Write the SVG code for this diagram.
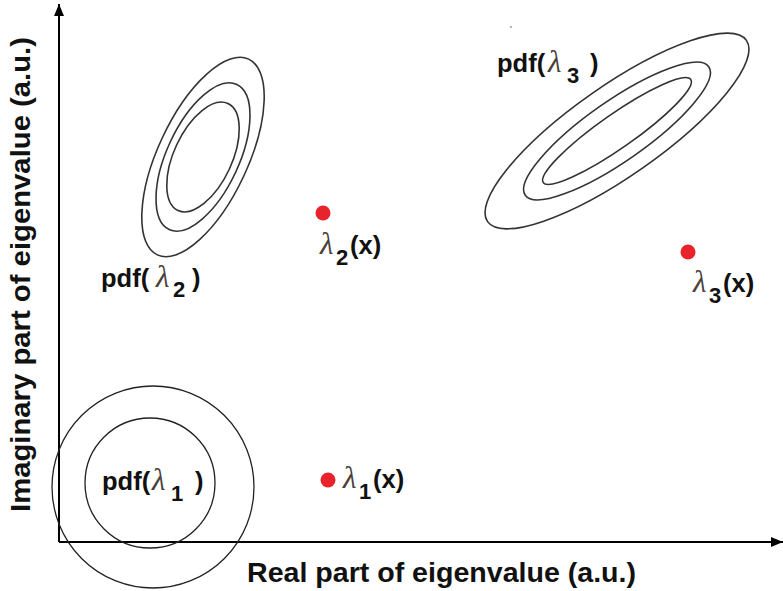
<svg xmlns="http://www.w3.org/2000/svg" width="783" height="591" viewBox="0 0 783 591">
<defs>
<style>
.lbl{font-family:"Liberation Sans",Arial,sans-serif;font-weight:bold;fill:#111;}
.lam{font-family:"Liberation Serif","DejaVu Serif",serif;font-style:italic;fill:#4a4038;font-size:31px;}
.sub{font-family:"Liberation Sans",Arial,sans-serif;font-weight:bold;fill:#111;font-size:22px;}
.contour{fill:none;stroke:#333;stroke-width:1.6;}
.circ{fill:none;stroke:#222;stroke-width:1.3;}
.axis{stroke:#000;stroke-width:2;fill:none;}
.dot{fill:#e8232b;}
</style>
<marker id="arr" viewBox="0 0 12 10" refX="12" refY="5" markerWidth="12" markerHeight="10" markerUnits="userSpaceOnUse" orient="auto">
<path d="M0,0 L12,5 L0,10 Z" fill="#000"/>
</marker>
</defs>
<rect width="783" height="591" fill="#fff"/>

<g id="connectors">
<line class="axis" x1="59" y1="542" x2="59" y2="4" marker-end="url(#arr)"/>
<line class="axis" x1="59" y1="542" x2="783" y2="542" marker-end="url(#arr)"/>
</g>

<g id="axis-labels">
<text class="lbl" x="247" y="582" font-size="28.5" textLength="389" lengthAdjust="spacingAndGlyphs">Real part of eigenvalue (a.u.)</text>
<text class="lbl" transform="translate(30,512) rotate(-90)" x="0" y="0" font-size="28.5" textLength="475" lengthAdjust="spacingAndGlyphs">Imaginary part of eigenvalue (a.u.)</text>
</g>

<g id="pdf1">
<circle class="circ" cx="153" cy="487" r="101"/>
<circle class="circ" cx="150" cy="483" r="65"/>
<text class="lbl" x="102" y="490" font-size="25.5">pdf(</text>
<text class="lam" x="152" y="490">λ</text>
<text class="sub" x="171" y="501">1</text>
<text class="lbl" x="195" y="490" font-size="25.5">)</text>
</g>

<g id="pdf2">
<g transform="rotate(25 203 157)">
<ellipse class="contour" cx="203" cy="157" rx="45" ry="108"/>
<ellipse class="contour" cx="203" cy="157" rx="36" ry="80"/>
<ellipse class="contour" cx="203" cy="157" rx="29" ry="59"/>
</g>
<text class="lbl" x="101" y="287" font-size="25.5">pdf(</text>
<text class="lam" x="156" y="287">λ</text>
<text class="sub" x="173" y="297">2</text>
<text class="lbl" x="192" y="287" font-size="25.5">)</text>
</g>

<g id="pdf3">
<g transform="rotate(-35 617 131)">
<ellipse class="contour" cx="617" cy="131" rx="158" ry="45"/>
<ellipse class="contour" cx="617" cy="131" rx="112" ry="30"/>
<ellipse class="contour" cx="617" cy="131" rx="90" ry="17"/>
</g>
<text class="lbl" x="497" y="72" font-size="25.5">pdf(</text>
<text class="lam" x="548" y="72">λ</text>
<text class="sub" x="567" y="83">3</text>
<text class="lbl" x="590" y="72" font-size="25.5">)</text>
<circle cx="511" cy="27" r="0.8" fill="#555"/>
</g>

<g id="lambda1">
<circle class="dot" cx="328" cy="480" r="7.5"/>
<text class="lam" x="343" y="488">λ</text>
<text class="sub" x="359" y="499">1</text>
<text class="lbl" x="373" y="488" font-size="25.5">(x)</text>
</g>

<g id="lambda2">
<circle class="dot" cx="323" cy="213" r="7.5"/>
<text class="lam" x="320" y="254">λ</text>
<text class="sub" x="336" y="265">2</text>
<text class="lbl" x="350" y="254" font-size="25.5">(x)</text>
</g>

<g id="lambda3">
<circle class="dot" cx="688" cy="252" r="7.5"/>
<text class="lam" x="693" y="292">λ</text>
<text class="sub" x="709" y="303">3</text>
<text class="lbl" x="723" y="292" font-size="25.5">(x)</text>
</g>
</svg>
